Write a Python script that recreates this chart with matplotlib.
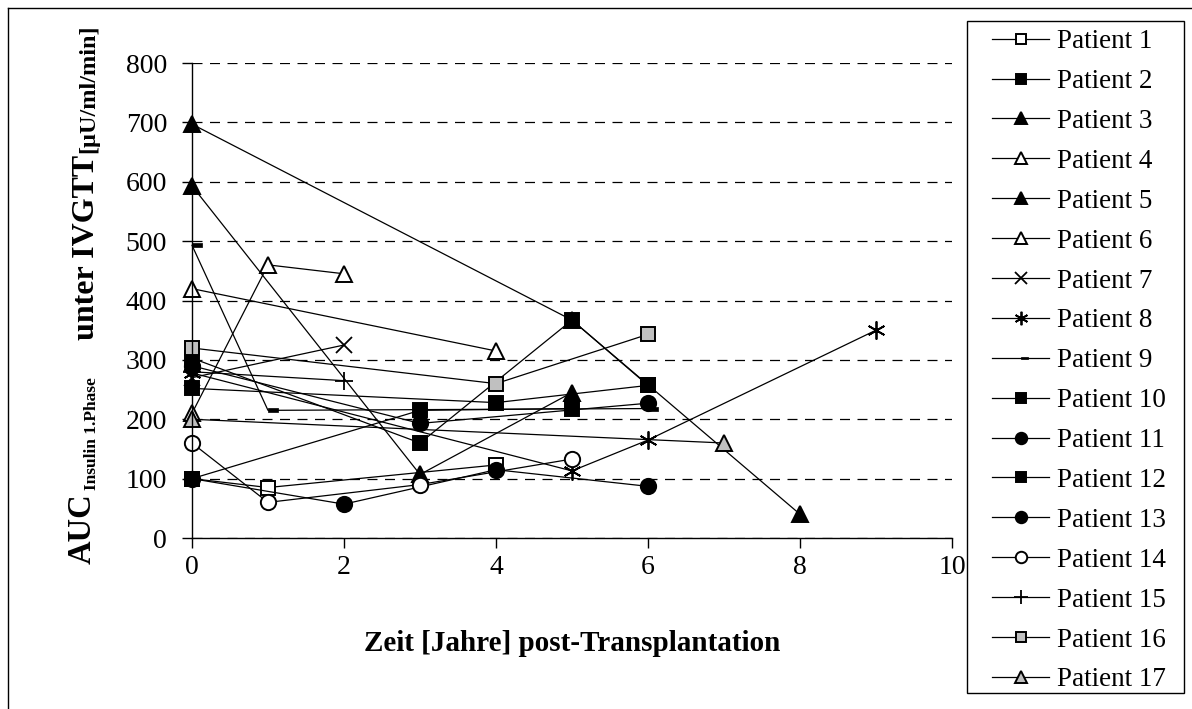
import matplotlib
matplotlib.use("Agg")
import matplotlib.pyplot as plt
from matplotlib.path import Path
from matplotlib.lines import Line2D
from matplotlib.patches import Rectangle

plt.rcParams['font.family'] = ['Liberation Serif', 'DejaVu Serif']

# ---- data (years post-transplantation, AUC insulin 1st phase) ----
p1_x = [0, 1, 4];        p1_y = [100, 85, 123]
p2_x = [0, 3, 5];        p2_y = [100, 215, 218]
p3_x = [0, 5, 8];        p3_y = [697, 367, 40]
p4_x = [0, 1, 2];        p4_y = [210, 460, 445]
p5_x = [0, 3, 5];        p5_y = [593, 107, 245]
p6_x = [0, 4];           p6_y = [420, 315]
p7_x = [0, 2];           p7_y = [270, 325]
p8_x = [0, 5, 6, 9];     p8_y = [278, 113, 165, 350]
p9_x = [0, 1, 6];        p9_y = [493, 215, 218]
p10_x = [0, 4, 6];       p10_y = [252, 228, 257]
p11_x = [0, 3, 6];       p11_y = [290, 193, 227]
p12_x = [0, 3, 5, 6];    p12_y = [303, 160, 367, 257]
p13_x = [0, 2, 4, 6];    p13_y = [100, 57, 115, 87]
p14_x = [0, 1, 3, 5];    p14_y = [160, 60, 90, 133]
p15_x = [0, 2];          p15_y = [280, 265]
p16_x = [0, 4, 6];       p16_y = [320, 260, 343]
p17_x = [0, 7];          p17_y = [200, 160]

labels = ["Patient %d" % i for i in range(1, 18)]
xticks = [0, 2, 4, 6, 8, 10]
yticks = [0, 100, 200, 300, 400, 500, 600, 700, 800]

series = [(p1_x, p1_y), (p2_x, p2_y), (p3_x, p3_y), (p4_x, p4_y), (p5_x, p5_y),
          (p6_x, p6_y), (p7_x, p7_y), (p8_x, p8_y), (p9_x, p9_y), (p10_x, p10_y),
          (p11_x, p11_y), (p12_x, p12_y), (p13_x, p13_y), (p14_x, p14_y),
          (p15_x, p15_y), (p16_x, p16_y), (p17_x, p17_y)]

# dash marker offset to the right as in the original
dash = Path([(0, -0.2), (1, -0.2), (1, 0.2), (0, 0.2), (0, -0.2)],
            [Path.MOVETO, Path.LINETO, Path.LINETO, Path.LINETO, Path.CLOSEPOLY])

W, H = 1192, 709
GRAY = '#C0C0C0'
styles = [
    dict(marker='s', mfc='white', ms=10),
    dict(marker='s', mfc='black', ms=10.5),
    dict(marker='^', mfc='black', ms=12),
    dict(marker='^', mfc='white', ms=12),
    dict(marker='^', mfc='black', ms=12),
    dict(marker='^', mfc='white', ms=12),
    dict(marker='x', mfc='black', ms=11, mew=1.3),
    dict(marker=(6, 2, 0), mfc='black', ms=13, mew=1.3),
    dict(marker=dash, mfc='black', ms=14, mew=0.5),
    dict(marker='s', mfc='black', ms=10.5),
    dict(marker='o', mfc='black', ms=11),
    dict(marker='s', mfc='black', ms=10.5),
    dict(marker='o', mfc='black', ms=11),
    dict(marker='o', mfc='white', ms=11),
    dict(marker='+', mfc='black', ms=13, mew=1.3),
    dict(marker='s', mfc=GRAY, ms=10),
    dict(marker='^', mfc=GRAY, ms=12),
]

fig = plt.figure(figsize=(W / 100, H / 100), dpi=100)
ax = fig.add_axes([192 / W, 1 - 538 / H, (952 - 192) / W, (538 - 63) / H])

for (xs, ys), st, lab in zip(series, styles, labels):
    kw = dict(color='black', lw=0.9, mec='black', mew=st.pop('mew', 1.4), label=lab)
    kw.update(st)
    ax.plot(xs, ys, clip_on=False, **kw)

ax.set_xlim(0, 10)
ax.set_ylim(0, 800)
ax.set_xticks(xticks)
ax.set_yticks(yticks)
ax.set_xticklabels([str(v) for v in xticks], fontsize=20)
ax.set_yticklabels([str(v) for v in yticks], fontsize=20)
ax.tick_params(axis='both', direction='out', length=7, width=1, color='black')
ax.tick_params(axis='y', pad=11)
ax.tick_params(axis='x', pad=5)
for s in ['top', 'right']:
    ax.spines[s].set_visible(False)
for s in ['left', 'bottom']:
    ax.spines[s].set_linewidth(1)
ax.set_axisbelow(True)
ax.yaxis.grid(True, color='black', lw=0.9, linestyle=(0, (8, 6)))

ax.set_xlabel('Zeit [Jahre] post-Transplantation', fontsize=21, fontweight='bold', labelpad=36)

# y label pieces (rotated)
def ftext(px, py, s, **kw):
    fig.text(px / W, 1 - py / H, s, rotation=90, ha='center', va='bottom', **kw)

ftext(82, 564, 'AUC', fontsize=23.5, fontweight='bold')
ftext(92, 490, 'Insulin 1.Phase', fontsize=12.5, fontweight='bold')
ftext(86, 340, 'unter IVGTT', fontsize=23, fontweight='bold')
ftext(89, 153, '[\u00b5U/ml/min]', fontsize=17.5, fontweight='bold')

# legend (frame drawn separately so that the entries can be inset horizontally)
leg = ax.legend(loc='upper left',
                bbox_to_anchor=(984 / W, 1 - 693 / H, (1184 - 984) / W, (693 - 21) / H),
                bbox_transform=fig.transFigure, mode='expand', borderaxespad=0,
                fontsize=19.5, frameon=False, handlelength=2.1, handletextpad=0.3,
                labelspacing=0.55, borderpad=0.3, markerscale=0.75)
fig.add_artist(Rectangle((967 / W, 1 - 693 / H), (1184 - 967) / W, (693 - 21) / H,
                         transform=fig.transFigure, fill=False, edgecolor='black', lw=1))

# outer chart border
fig.add_artist(Line2D([8 / W, 8 / W], [0, 1 - 8 / H], color='black', lw=1, transform=fig.transFigure))
fig.add_artist(Line2D([8 / W, 1], [1 - 8 / H, 1 - 8 / H], color='black', lw=1, transform=fig.transFigure))

fig.savefig('out.png', dpi=100)
